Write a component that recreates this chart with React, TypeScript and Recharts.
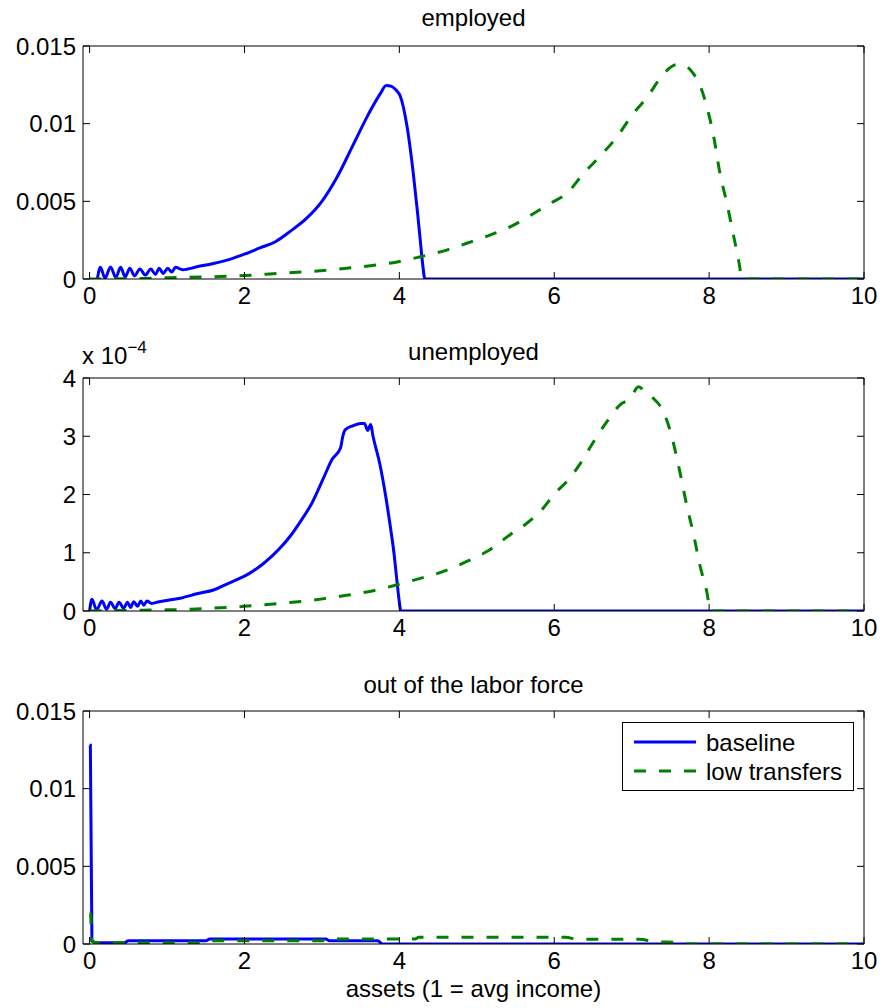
import { LineChart, Line, XAxis, YAxis, ReferenceLine } from "recharts";

const assetTicks = [0, 2, 4, 6, 8, 10];
const densityTicks = [0, 0.005, 0.01, 0.015];
const unempTicks = [0, 1, 2, 3, 4];

// employed, baseline
const empBaseAssets = [0.1, 0.14, 0.2, 0.27, 0.34, 0.4, 0.46, 0.52, 0.58, 0.65, 0.72, 0.79, 0.85, 0.9, 0.95, 1.01, 1.06, 1.11, 1.2, 1.4, 1.6, 1.8, 2.0, 2.2, 2.4, 2.6, 2.8, 3.0, 3.2, 3.4, 3.6, 3.75, 3.83, 3.9, 3.96, 4.01, 4.1, 4.18, 4.23, 4.27, 4.3, 4.33, 10];
const empBaseDensity = [0, 0.00075, 0.00005, 0.00078, 0.0001, 0.00075, 0.00015, 0.0007, 0.0002, 0.00065, 0.00025, 0.00065, 0.0003, 0.0007, 0.00035, 0.0007, 0.00045, 0.00075, 0.0006, 0.0008, 0.001, 0.00125, 0.0016, 0.002, 0.0024, 0.0031, 0.0039, 0.005, 0.0066, 0.0086, 0.0106, 0.0119, 0.01245, 0.0124, 0.01215, 0.0118, 0.0098, 0.0068, 0.0045, 0.0025, 0.001, 0, 0];

// employed, low transfers
const empLowAssets = [0, 0.5, 1.0, 1.6, 2.0, 2.46, 2.9, 3.32, 3.7, 3.97, 4.27, 4.61, 4.87, 5.17, 5.43, 5.73, 5.95, 6.16, 6.38, 6.59, 6.81, 7.02, 7.2, 7.41, 7.58, 7.68, 7.8, 7.89, 7.97, 8.06, 8.14, 8.23, 8.31, 8.38, 8.43, 10];
const empLowDensity = [0, 0.00002, 0.00008, 0.00015, 0.00022, 0.00037, 0.0005, 0.00069, 0.0009, 0.0011, 0.00143, 0.00186, 0.0023, 0.00283, 0.00336, 0.0042, 0.00487, 0.0055, 0.0068, 0.0079, 0.00915, 0.01065, 0.0117, 0.0132, 0.0138, 0.01375, 0.0132, 0.01237, 0.0111, 0.00915, 0.0068, 0.00487, 0.00294, 0.00122, 0, 0];

// unemployed, baseline (x 10^-4)
const unBaseAssets = [0, 0.03, 0.09, 0.16, 0.22, 0.27, 0.33, 0.38, 0.44, 0.49, 0.53, 0.57, 0.62, 0.66, 0.7, 0.74, 0.8, 0.9, 1.17, 1.4, 1.6, 1.8, 2.03, 2.25, 2.46, 2.6, 2.72, 2.87, 3.02, 3.13, 3.24, 3.27, 3.3, 3.4, 3.5, 3.55, 3.59, 3.63, 3.66, 3.75, 3.82, 3.88, 3.93, 3.97, 4.0, 4.02, 10];
const unBaseDensity = [0, 0.2, 0.02, 0.17, 0.03, 0.15, 0.04, 0.15, 0.05, 0.15, 0.06, 0.16, 0.08, 0.17, 0.1, 0.17, 0.13, 0.16, 0.22, 0.3, 0.36, 0.48, 0.62, 0.82, 1.08, 1.3, 1.53, 1.85, 2.28, 2.6, 2.8, 3.0, 3.11, 3.18, 3.22, 3.22, 3.1, 3.2, 3.0, 2.51, 2.0, 1.48, 1.0, 0.5, 0.15, 0, 0];

// unemployed, low transfers (x 10^-4)
const unLowAssets = [0, 0.5, 1.0, 1.3, 1.6, 2.0, 2.46, 2.9, 3.32, 3.7, 3.97, 4.27, 4.57, 4.87, 5.13, 5.43, 5.65, 5.82, 6.03, 6.16, 6.34, 6.51, 6.68, 6.85, 6.98, 7.09, 7.18, 7.28, 7.41, 7.5, 7.63, 7.71, 7.8, 7.88, 7.97, 8.02, 10];
const unLowDensity = [0, 0.01, 0.02, 0.03, 0.05, 0.08, 0.13, 0.19, 0.27, 0.36, 0.45, 0.56, 0.68, 0.85, 1.02, 1.31, 1.51, 1.71, 2.05, 2.22, 2.54, 2.91, 3.25, 3.54, 3.65, 3.85, 3.75, 3.65, 3.42, 3.08, 2.34, 1.82, 1.31, 0.79, 0.33, 0, 0];

// out of the labor force, baseline
const olfBaseAssets = [0, 0.01, 0.03, 0.1, 0.45, 0.5, 1.5, 1.55, 3.05, 3.1, 3.72, 3.78, 10];
const olfBaseDensity = [0.0128, 0.0128, 0.0002, 0.00008, 0.00008, 0.00021, 0.00021, 0.00032, 0.00032, 0.00021, 0.00021, 0, 0];

// out of the labor force, low transfers
const olfLowAssets = [0, 0.01, 0.03, 0.1, 1.5, 1.55, 3.05, 3.1, 4.2, 4.25, 6.15, 6.3, 7.1, 7.3, 7.6, 7.75, 10];
const olfLowDensity = [0.002, 0.002, 0.0002, 0.00008, 0.00008, 0.00021, 0.00021, 0.00032, 0.00032, 0.00043, 0.00043, 0.0003, 0.0003, 0.00015, 0.0001, 0, 0];

const zip = (xs: number[], ys: number[]) => xs.map((x, i) => ({ x, y: ys[i] }));

const font = "'Liberation Sans', Arial, Helvetica, sans-serif";
const X_DOMAIN: [number, number] = [-0.085, 10];
const PLOT_W = 781;
const PLOT_H = 233;
const TICK = 7;

// bottom ticks: label plus inward tick marks on bottom and top edge
const XTick = (props: any) => {
  const { x, y, payload } = props;
  const axisY = y - 8;
  return (
    <g>
      <line x1={x} x2={x} y1={axisY} y2={axisY - TICK} stroke="#000" />
      <line x1={x} x2={x} y1={axisY - PLOT_H} y2={axisY - PLOT_H + TICK} stroke="#000" />
      <text x={x} y={y} dy="0.71em" textAnchor="middle" fontSize={24} fontFamily={font} fill="#000">
        {payload.value}
      </text>
    </g>
  );
};

// left ticks: label plus inward tick marks on left and right edge
const YTick = (props: any) => {
  const { x, y, payload } = props;
  const axisX = x + 7;
  return (
    <g>
      <line x1={axisX} x2={axisX + TICK} y1={y} y2={y} stroke="#000" />
      <line x1={axisX + PLOT_W} x2={axisX + PLOT_W - TICK} y1={y} y2={y} stroke="#000" />
      <text x={x} y={y} dy="0.355em" textAnchor="end" fontSize={24} fontFamily={font} fill="#000">
        {String(payload.value)}
      </text>
    </g>
  );
};

interface PanelProps {
  top: number;
  baseline: { x: number; y: number }[];
  low: { x: number; y: number }[];
  yDomain: [number, number];
  yTicks: number[];
}

function Panel({ top, baseline, low, yDomain, yTicks }: PanelProps) {
  return (
    <div style={{ position: "absolute", left: 0, top }}>
      <LineChart width={881} height={319} margin={{ top: 46, right: 17, bottom: 0, left: 0 }}>
        <XAxis
          type="number"
          dataKey="x"
          domain={X_DOMAIN}
          ticks={assetTicks}
          allowDataOverflow
          height={40}
          tickLine={false}
          tickSize={0}
          tickMargin={8}
          stroke="#000"
          tick={<XTick />}
        />
        <YAxis
          type="number"
          domain={yDomain}
          ticks={yTicks}
          allowDataOverflow
          width={83}
          tickLine={false}
          tickSize={0}
          tickMargin={7}
          stroke="#000"
          tick={<YTick />}
        />
        <ReferenceLine y={yDomain[1]} stroke="#000" strokeWidth={1} />
        <ReferenceLine x={10} stroke="#000" strokeWidth={1} />
        <Line
          data={baseline}
          dataKey="y"
          type="monotone"
          stroke="#0000ff"
          strokeWidth={3}
          dot={false}
          isAnimationActive={false}
        />
        <Line
          data={low}
          dataKey="y"
          type="monotone"
          stroke="#008000"
          strokeWidth={3}
          strokeDasharray="12 13"
          dot={false}
          isAnimationActive={false}
        />
      </LineChart>
    </div>
  );
}

const titleStyle = {
  position: "absolute" as const,
  left: 83,
  width: PLOT_W,
  textAlign: "center" as const,
  fontFamily: font,
  fontSize: 24,
  lineHeight: "24px",
  color: "#000",
};

export default function App() {
  return (
    <div style={{ position: "absolute", left: 0, top: 0, width: 881, height: 1008, background: "#fff" }}>
      <div style={{ ...titleStyle, top: 6 }}>employed</div>
      <Panel top={0} baseline={zip(empBaseAssets, empBaseDensity)} low={zip(empLowAssets, empLowDensity)} yDomain={[0, 0.015]} yTicks={densityTicks} />

      <div style={{ ...titleStyle, top: 340 }}>unemployed</div>
      <div style={{ position: "absolute", left: 82, top: 344, fontFamily: font, fontSize: 24, lineHeight: "24px" }}>
        x 10<sup style={{ fontSize: 17, verticalAlign: "top", position: "relative", top: -8 }}>−4</sup>
      </div>
      <Panel top={332} baseline={zip(unBaseAssets, unBaseDensity)} low={zip(unLowAssets, unLowDensity)} yDomain={[0, 4]} yTicks={unempTicks} />

      <div style={{ ...titleStyle, top: 673 }}>out of the labor force</div>
      <Panel top={665} baseline={zip(olfBaseAssets, olfBaseDensity)} low={zip(olfLowAssets, olfLowDensity)} yDomain={[0, 0.015]} yTicks={densityTicks} />

      <div style={{ position: "absolute", left: 622, top: 722, width: 230, height: 67, border: "1px solid #000", background: "#fff" }}>
        <svg width={230} height={67} style={{ position: "absolute", left: 0, top: 0 }}>
          <line x1={11} x2={73} y1={19} y2={19} stroke="#0000ff" strokeWidth={3} />
          <line x1={11} x2={73} y1={48} y2={48} stroke="#008000" strokeWidth={3} strokeDasharray="12 13" />
          <text x={83} y={28} fontFamily={font} fontSize={24} fill="#000">baseline</text>
          <text x={83} y={57} fontFamily={font} fontSize={24} fill="#000">low transfers</text>
        </svg>
      </div>

      <div style={{ ...titleStyle, top: 977 }}>assets (1 = avg income)</div>
    </div>
  );
}
